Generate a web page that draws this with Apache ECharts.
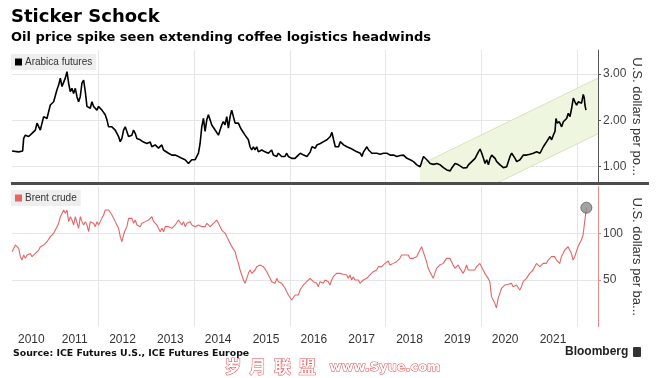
<!DOCTYPE html>
<html><head><meta charset="utf-8">
<script src="https://cdn.jsdelivr.net/npm/echarts@6/dist/echarts.min.js"></script>
<style>html,body{margin:0;padding:0;background:#fff}#c{width:660px;height:378px}</style>
</head><body><div id="c"></div>
<script>
// ---- data (x = decimal year) ----
const arabica = [[2010.191,1.34],[2010.330,1.32],[2010.413,1.34],[2010.434,1.61],[2010.469,1.68],[2010.539,1.65],[2010.608,1.72],[2010.678,1.79],[2010.713,1.94],[2010.782,1.79],[2010.852,2.08],[2010.921,2.04],[2010.991,2.33],[2011.061,2.40],[2011.130,2.66],[2011.165,2.76],[2011.200,2.91],[2011.235,2.73],[2011.269,2.69],[2011.304,2.91],[2011.339,3.05],[2011.374,2.80],[2011.408,2.62],[2011.443,2.69],[2011.478,2.58],[2011.513,2.69],[2011.548,2.51],[2011.582,2.40],[2011.617,2.51],[2011.652,2.80],[2011.687,2.87],[2011.722,2.62],[2011.757,2.30],[2011.791,2.33],[2011.826,2.26],[2011.861,2.40],[2011.896,2.30],[2011.930,2.33],[2011.965,2.22],[2012.000,2.30],[2012.035,2.26],[2012.070,2.22],[2012.104,2.19],[2012.139,2.12],[2012.174,2.01],[2012.209,1.86],[2012.244,1.83],[2012.278,1.86],[2012.348,1.79],[2012.418,1.65],[2012.452,1.54],[2012.487,1.61],[2012.522,1.79],[2012.557,1.86],[2012.591,1.76],[2012.626,1.65],[2012.661,1.61],[2012.696,1.68],[2012.731,1.79],[2012.765,1.72],[2012.800,1.61],[2012.870,1.58],[2012.939,1.53],[2013.009,1.50],[2013.044,1.47],[2013.079,1.53],[2013.113,1.43],[2013.183,1.47],[2013.253,1.40],[2013.322,1.47],[2013.357,1.36],[2013.392,1.32],[2013.461,1.29],[2013.531,1.25],[2013.600,1.25],[2013.670,1.22],[2013.740,1.18],[2013.809,1.15],[2013.879,1.07],[2013.914,1.11],[2013.948,1.15],[2014.018,1.15],[2014.053,1.22],[2014.088,1.29],[2014.122,1.50],[2014.157,1.86],[2014.192,2.04],[2014.227,1.76],[2014.262,2.01],[2014.296,2.12],[2014.331,2.01],[2014.366,1.90],[2014.401,1.86],[2014.436,1.79],[2014.470,1.76],[2014.505,1.68],[2014.540,1.79],[2014.575,1.90],[2014.609,1.97],[2014.644,1.90],[2014.679,2.08],[2014.714,1.83],[2014.749,2.08],[2014.783,2.22],[2014.818,2.08],[2014.853,1.94],[2014.888,1.97],[2014.923,1.94],[2014.957,1.86],[2014.992,1.79],[2015.027,1.76],[2015.062,1.68],[2015.097,1.72],[2015.131,1.58],[2015.166,1.43],[2015.201,1.36],[2015.236,1.43],[2015.270,1.36],[2015.305,1.43],[2015.340,1.32],[2015.410,1.36],[2015.479,1.32],[2015.549,1.29],[2015.618,1.36],[2015.653,1.25],[2015.688,1.25],[2015.723,1.22],[2015.758,1.29],[2015.792,1.32],[2015.827,1.22],[2015.897,1.22],[2015.932,1.29],[2015.966,1.22],[2016.036,1.18],[2016.106,1.18],[2016.175,1.25],
[2016.217,1.29],[2016.287,1.25],[2016.356,1.22],[2016.426,1.32],[2016.461,1.43],[2016.496,1.47],[2016.530,1.40],[2016.565,1.47],[2016.600,1.43],[2016.635,1.50],[2016.669,1.47],[2016.704,1.54],[2016.739,1.50],[2016.774,1.58],[2016.809,1.61],[2016.843,1.65],[2016.878,1.74],[2016.913,1.58],[2016.948,1.43],[2016.983,1.47],[2017.017,1.43],[2017.052,1.54],[2017.087,1.50],[2017.122,1.47],[2017.191,1.43],[2017.226,1.47],[2017.261,1.40],[2017.331,1.36],[2017.400,1.32],[2017.470,1.29],[2017.505,1.22],[2017.539,1.32],[2017.574,1.36],[2017.609,1.43],[2017.644,1.36],[2017.679,1.32],[2017.713,1.29],[2017.748,1.32],[2017.818,1.29],[2017.887,1.27],[2017.957,1.29],[2017.992,1.25],[2018.027,1.29],[2018.096,1.25],[2018.166,1.25],[2018.235,1.22],[2018.305,1.24],[2018.374,1.25],[2018.409,1.22],[2018.444,1.18],[2018.514,1.15],[2018.583,1.11],[2018.653,1.04],[2018.722,1.00],[2018.757,1.11],[2018.792,1.22],[2018.827,1.18],[2018.862,1.15],[2018.896,1.18],[2018.931,1.07],[2018.966,1.04],[2019.001,1.05],[2019.070,1.07],[2019.140,1.04],[2019.209,0.98],[2019.279,0.93],[2019.349,0.91],[2019.383,0.97],[2019.418,1.00],[2019.453,1.07],[2019.488,1.11],[2019.523,1.04],[2019.557,1.00],[2019.627,0.97],[2019.697,0.98],[2019.731,1.04],[2019.766,1.00],[2019.801,1.11],[2019.836,1.07],[2019.871,1.18],[2019.905,1.25],[2019.940,1.32],[2019.975,1.38],[2020.010,1.29],[2020.045,1.18],[2020.079,1.07],[2020.114,1.15],[2020.149,1.04],[2020.184,1.18],[2020.218,1.25],[2020.253,1.29],[2020.288,1.18],[2020.323,1.11],[2020.393,1.04],[2020.462,0.98],[2020.532,1.00],[2020.566,1.11],[2020.601,1.22],[2020.636,1.29],[2020.671,1.32],[2020.706,1.18],[2020.740,1.11],[2020.775,1.07],[2020.810,1.15],[2020.845,1.18],[2020.880,1.25],[2020.949,1.25],[2021.019,1.27],[2021.088,1.29],[2021.123,1.25],[2021.158,1.32],[2021.193,1.36],[2021.228,1.29],[2021.262,1.36],[2021.297,1.43],[2021.332,1.47],[2021.367,1.54],[2021.401,1.50],[2021.436,1.65],[2021.471,1.58],[2021.506,1.68],[2021.541,1.76],[2021.562,2.04],[2021.589,1.94],[2021.631,1.97],[2021.680,1.86],[2021.715,1.97],[2021.750,1.94],[2021.784,2.04],[2021.819,2.15],[2021.854,2.08],[2021.889,2.26],[2021.924,2.48],[2021.958,2.40],[2021.993,2.33],[2022.028,2.40],[2022.063,2.44],[2022.097,2.37],[2022.132,2.56],[2022.153,2.48],[2022.167,2.33],[2022.188,2.22]];

// Brent crude, regular samples (~every 12.7 days) starting at brentStart
const brentStart = 2010.191;
const brentStepYears = 0.0348;
const brentValues = [
80.3,82.1,87.5,88.2,83.9,75.0,71.4,76.8,73.2,76.8,
75.0,78.5,75.0,73.2,78.5,80.3,82.1,85.7,83.9,87.5,
85.7,91.0,92.8,96.4,98.2,100.0,101.7,107.1,110.7,117.8,
116.0,124.9,121.4,124.9,112.5,117.8,114.2,108.9,117.8,116.0,
105.3,117.8,112.5,108.9,112.5,108.9,101.7,112.5,114.2,110.7,
107.1,112.5,108.9,112.5,114.2,119.6,124.9,126.0,124.9,123.2,
119.6,117.8,112.5,108.9,105.3,96.4,91.0,98.2,103.5,107.1,
116.0,114.2,116.0,110.7,114.2,108.9,110.7,107.1,110.7,108.9,
112.5,110.7,114.2,116.0,117.8,112.5,110.7,108.9,107.1,101.7,
105.3,101.7,107.1,105.3,107.1,108.9,105.3,107.1,108.9,110.7,
114.2,112.5,108.9,112.5,107.1,110.7,108.9,112.5,108.9,110.7,
107.1,108.9,108.9,110.7,107.1,108.9,107.1,110.7,108.9,107.1,
108.9,110.7,108.9,114.2,110.7,107.1,103.5,101.7,100.0,96.4,
94.6,89.3,85.7,83.9,80.3,73.2,67.8,60.7,55.4,50.0,
46.4,51.8,57.1,60.7,57.1,55.4,60.7,64.3,66.1,66.1,
64.3,64.3,62.5,58.9,55.4,51.8,48.2,50.0,46.4,51.8,
48.2,50.0,46.4,44.6,41.1,37.5,33.9,32.2,28.6,30.4,
33.9,35.7,33.9,39.3,
41.1,44.6,46.4,48.2,50.0,51.8,50.0,48.2,50.0,46.4,
42.9,48.2,50.0,46.4,50.0,51.8,48.2,44.6,50.0,53.6,
55.4,57.1,56.1,57.1,56.4,56.1,57.1,55.4,51.8,55.4,
50.0,53.6,50.0,48.2,50.0,46.4,48.2,50.0,51.8,51.8,
53.6,55.4,55.4,58.9,57.1,60.7,64.3,62.5,64.3,66.1,
67.8,69.6,70.3,66.1,64.3,67.8,66.1,69.6,71.4,73.2,
76.8,78.5,76.8,75.0,76.8,73.2,75.0,73.2,71.4,75.0,
78.5,82.1,85.7,80.3,75.0,69.6,62.5,58.9,55.4,51.8,
57.1,62.5,64.3,66.1,66.1,67.8,69.6,73.2,75.0,73.2,
69.6,66.1,62.5,64.3,66.1,62.5,60.7,57.1,60.7,66.1,
60.7,58.9,60.7,62.5,60.7,64.3,66.1,67.8,64.3,60.7,
57.1,55.4,51.8,48.2,32.2,33.9,25.0,20.0,30.4,35.7,
41.1,42.9,44.6,44.6,45.4,44.6,46.4,42.9,41.1,44.6,
42.9,39.3,42.9,48.2,50.0,51.8,53.6,57.1,58.9,60.7,
64.3,67.8,69.6,64.3,66.1,67.8,69.6,67.8,71.4,73.2,
75.0,76.8,75.0,71.4,73.2,67.8,75.0,78.5,82.1,83.9,
85.7,82.1,78.5,71.4,75.0,80.3,85.7,89.3,92.8,98.2,
112.5,127.4];

const yearLabels = [2010,2011,2012,2013,2014,2015,2016,2017,2018,2019,2020,2021];
const gridYears = [2012,2014,2016,2018,2020,2022];
const arabicaTicks = [1,2,3];
const brentTicks = [50,100];
// price channel drawn on the coffee panel
const channelYears = [2018.72, 2022.44];
const channelUpper = [1.04, 2.91];
const channelLower = [-0.16, 1.71];

const xMin = 2010.19, xMax = 2022.44;

// ---- build ----
const brent = brentValues.map((v,i)=>[brentStart + i*brentStepYears, v]);
const brentLast = brent[brent.length-1];
const yearLabelPos = yearLabels.map(y => (Math.max(y,xMin) + Math.min(y+1,xMax))/2);

const FONT = '"Liberation Sans", Arial, sans-serif';
const gridColor = '#e6e6e6';
const G0 = {left:12, right:62, top:50, height:133};
const G1 = {left:12, right:62, top:186.6, height:140.1};

const chart = echarts.init(document.getElementById('c'), null, {renderer:'canvas'});
chart.setOption({
  animation:false,
  backgroundColor:'#fff',
  textStyle:{fontFamily:FONT},
  grid:[G0, G1],
  legend:[
    {data:[{name:'Arabica futures', icon:'rect'}], left:11, top:54, backgroundColor:'#eeeeee',
     padding:[3,4,3,4], itemWidth:7, itemHeight:7, itemGap:4, selectedMode:false,
     textStyle:{fontSize:10, color:'#333', fontFamily:FONT, padding:[0,0,0,-2]}},
    {data:[{name:'Brent crude', icon:'rect'}], left:11, top:190, backgroundColor:'#eeeeee',
     padding:[3,4,3,4], itemWidth:7, itemHeight:7, itemGap:4, selectedMode:false,
     textStyle:{fontSize:10, color:'#333', fontFamily:FONT, padding:[0,0,0,-2]}}
  ],
  xAxis:[
    {type:'value', gridIndex:0, min:xMin, max:xMax,
     axisLine:{show:false}, axisTick:{show:false, customValues:gridYears},
     axisLabel:{show:false}, splitLine:{show:true, lineStyle:{color:gridColor, width:1}}},
    {type:'value', gridIndex:1, min:xMin, max:xMax,
     axisLine:{show:false}, axisTick:{show:false, customValues:gridYears},
     axisLabel:{show:true, customValues:yearLabelPos, formatter:v=>String(Math.floor(v)),
       color:'#333', fontSize:12, margin:7, fontFamily:FONT},
     splitLine:{show:true, lineStyle:{color:gridColor, width:1}}}
  ],
  yAxis:[
    {type:'value', gridIndex:0, position:'right', min:0.648, max:3.517,
     axisLine:{show:true, lineStyle:{color:'#555', width:1}},
     axisTick:{show:true, length:3, customValues:arabicaTicks, lineStyle:{color:'#555'}},
     axisLabel:{customValues:arabicaTicks, formatter:v=>v.toFixed(2), color:'#444', fontSize:12, margin:5, fontFamily:FONT},
     splitLine:{show:true, lineStyle:{color:gridColor, width:1}},
     name:'U.S. dollars per po...', nameLocation:'middle', nameRotate:-90, nameGap:32, nameMoveOverlap:false,
     nameTextStyle:{fontSize:13, color:'#333', fontFamily:FONT}},
    {type:'value', gridIndex:1, position:'right', min:0, max:150,
     axisLine:{show:true, lineStyle:{color:'#e98b8b', width:1}},
     axisTick:{show:true, length:3, customValues:brentTicks, lineStyle:{color:'#e98b8b'}},
     axisLabel:{customValues:brentTicks, color:'#444', fontSize:12, margin:5, fontFamily:FONT},
     splitLine:{show:true, lineStyle:{color:gridColor, width:1}},
     name:'U.S. dollars per ba...', nameLocation:'middle', nameRotate:-90, nameGap:32, nameMoveOverlap:false,
     nameTextStyle:{fontSize:13, color:'#333', fontFamily:FONT}}
  ],
  series:[
    {type:'custom', name:'channel', xAxisIndex:0, yAxisIndex:0, clip:true, silent:true, z:1,
     data:[[channelYears[0], channelUpper[0]]],
     renderItem:function(params, api){
       const a = api.coord([channelYears[0], channelUpper[0]]);
       const b = api.coord([channelYears[1], channelUpper[1]]);
       const c = api.coord([channelYears[1], channelLower[1]]);
       const d = api.coord([channelYears[0], channelLower[0]]);
       return {type:'group', children:[
         {type:'polygon', shape:{points:[a,b,c,d]}, style:{fill:'#eef6df'}},
         {type:'line', shape:{x1:a[0],y1:a[1],x2:b[0],y2:b[1]}, style:{stroke:'#d3e6b4', lineWidth:1}},
         {type:'line', shape:{x1:d[0],y1:d[1],x2:c[0],y2:c[1]}, style:{stroke:'#d3e6b4', lineWidth:1}}
       ]};
     }},
    {type:'line', name:'Arabica futures', xAxisIndex:0, yAxisIndex:0, data:arabica,
     showSymbol:false, symbol:'none', z:3, color:'#000',
     lineStyle:{color:'#000', width:1.6}},
    {type:'line', name:'Brent crude', xAxisIndex:1, yAxisIndex:1, data:brent,
     showSymbol:false, symbol:'none', z:3, color:'#e46565',
     lineStyle:{color:'#e46565', width:1.1}},
    {type:'scatter', name:'last', xAxisIndex:1, yAxisIndex:1, data:[brentLast], z:4,
     symbolSize:11, itemStyle:{color:'#8c8c8c', borderColor:'#5c5c5c', borderWidth:1}}
  ],
  graphic:[
    {type:'text', left:11, top:8, style:{text:'Sticker Schock', font:'bold 18px "DejaVu Sans"', fill:'#000'}},
    {type:'text', left:11, top:31, style:{text:'Oil price spike seen extending coffee logistics headwinds', font:'bold 13px "DejaVu Sans"', fill:'#000'}},
    {type:'rect', left:11, top:182, shape:{width:638, height:3}, style:{fill:'#4d4d4d'}, z:10},
    {type:'text', left:13, top:349, style:{text:'Source: ICE Futures U.S., ICE Futures Europe', font:'bold 9.4px "DejaVu Sans"', fill:'#111'}},
    {type:'text', left:565, top:346, style:{text:'Bloomberg', font:'bold 12px "Liberation Sans"', fill:'#222'}},
    {type:'rect', left:633, top:347, shape:{width:8, height:10, r:1}, style:{fill:'#333'}},
    {type:'text', left:224, top:358, style:{text:'岁  月  联  盟', font:'bold 17px "Noto Sans CJK SC"', fill:'#fff', stroke:'#e5484d', lineWidth:1}},
    {type:'text', left:329, top:361, style:{text:'www.Syue.com', font:'bold 13px "DejaVu Sans"', fill:'#fff', stroke:'#e5484d', lineWidth:1}}
  ]
});
</script>
</body></html>
